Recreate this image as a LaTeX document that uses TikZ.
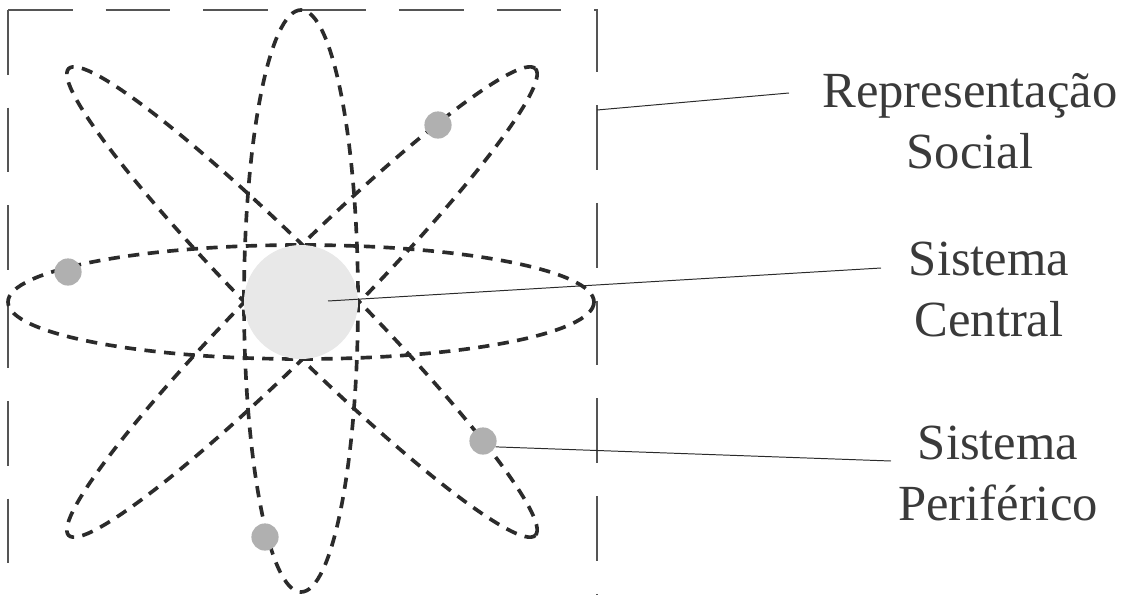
\documentclass[tikz,border=0pt]{standalone}
\usepackage{fontspec}
\setmainfont{Liberation Serif}

\definecolor{inkgray}{HTML}{2B2B2B}
\definecolor{textgray}{HTML}{3A3A3A}
\definecolor{framegray}{HTML}{555555}
\definecolor{coregray}{HTML}{E8E8E8}
\definecolor{planetgray}{HTML}{B0B0B0}

\begin{document}
\begin{tikzpicture}[x=0.025cm, y=-0.025cm,
	orbit/.style={draw=inkgray, line width=2.6pt, dash pattern=on 8pt off 6pt},
	frameline/.style={draw=framegray, line width=1pt, dash pattern=on 46pt off 23.5pt},
	leader/.style={draw=inkgray, line width=0.7pt},
	core/.style={circle, fill=coregray, inner sep=0pt, minimum size=2.85cm},
	planet/.style={circle, fill=planetgray, inner sep=0pt, minimum size=0.68cm},
	labeltext/.style={font=\fontsize{36}{42.7}\selectfont, text=textgray, align=center, anchor=base}]

	\useasboundingbox (0,0) rectangle (1127,594);

	% frame of the representation
	\draw[frameline]	(8,10)	--	(597,10)	--	(597,594);
	\draw[frameline]	(8,10)	--	(8,594);

	% orbits
	\draw[orbit]	(301,302)	ellipse	[x radius=293, y radius=57];
	\draw[orbit]	(301,301)	ellipse	[x radius=57, y radius=291];
	\draw[orbit, rotate around={45:(302,302)}]	(302,302)	ellipse	[x radius=330, y radius=41];
	\draw[orbit, rotate around={-45:(302,302)}]	(302,302)	ellipse	[x radius=330, y radius=41];


	\node 	(core)		at	(301,302) 	[core]{};

	\node 	(p1)		at	(68,272) 	[planet]{};
	\node 	(p2)		at	(438,125) 	[planet]{};
	\node 	(p3)		at	(483,441) 	[planet]{};
	\node 	(p4)		at	(265,537) 	[planet]{};


	% base anchor sits on the last line
	\node 	(rep)		at	(970,168) 	[labeltext]{Representação\\Social};
	\node 	(cen)		at	(989,336) 	[labeltext]{Sistema\\Central};
	\node 	(per)		at	(998,520) 	[labeltext]{Sistema\\Periférico};

	\coordinate 	(framept)	at	(597,110);
	\coordinate 	(repend)	at	(789,93);
	\coordinate 	(corept)	at	(328,301);
	\coordinate 	(cenend)	at	(881,268);
	\coordinate 	(perend)	at	(891,461);

	\draw[leader]	(framept)	to	(repend);
	\draw[leader]	(corept)	to	(cenend);
	\draw[leader]	(p3.-25)	to	(perend);

\end{tikzpicture}
\end{document}
